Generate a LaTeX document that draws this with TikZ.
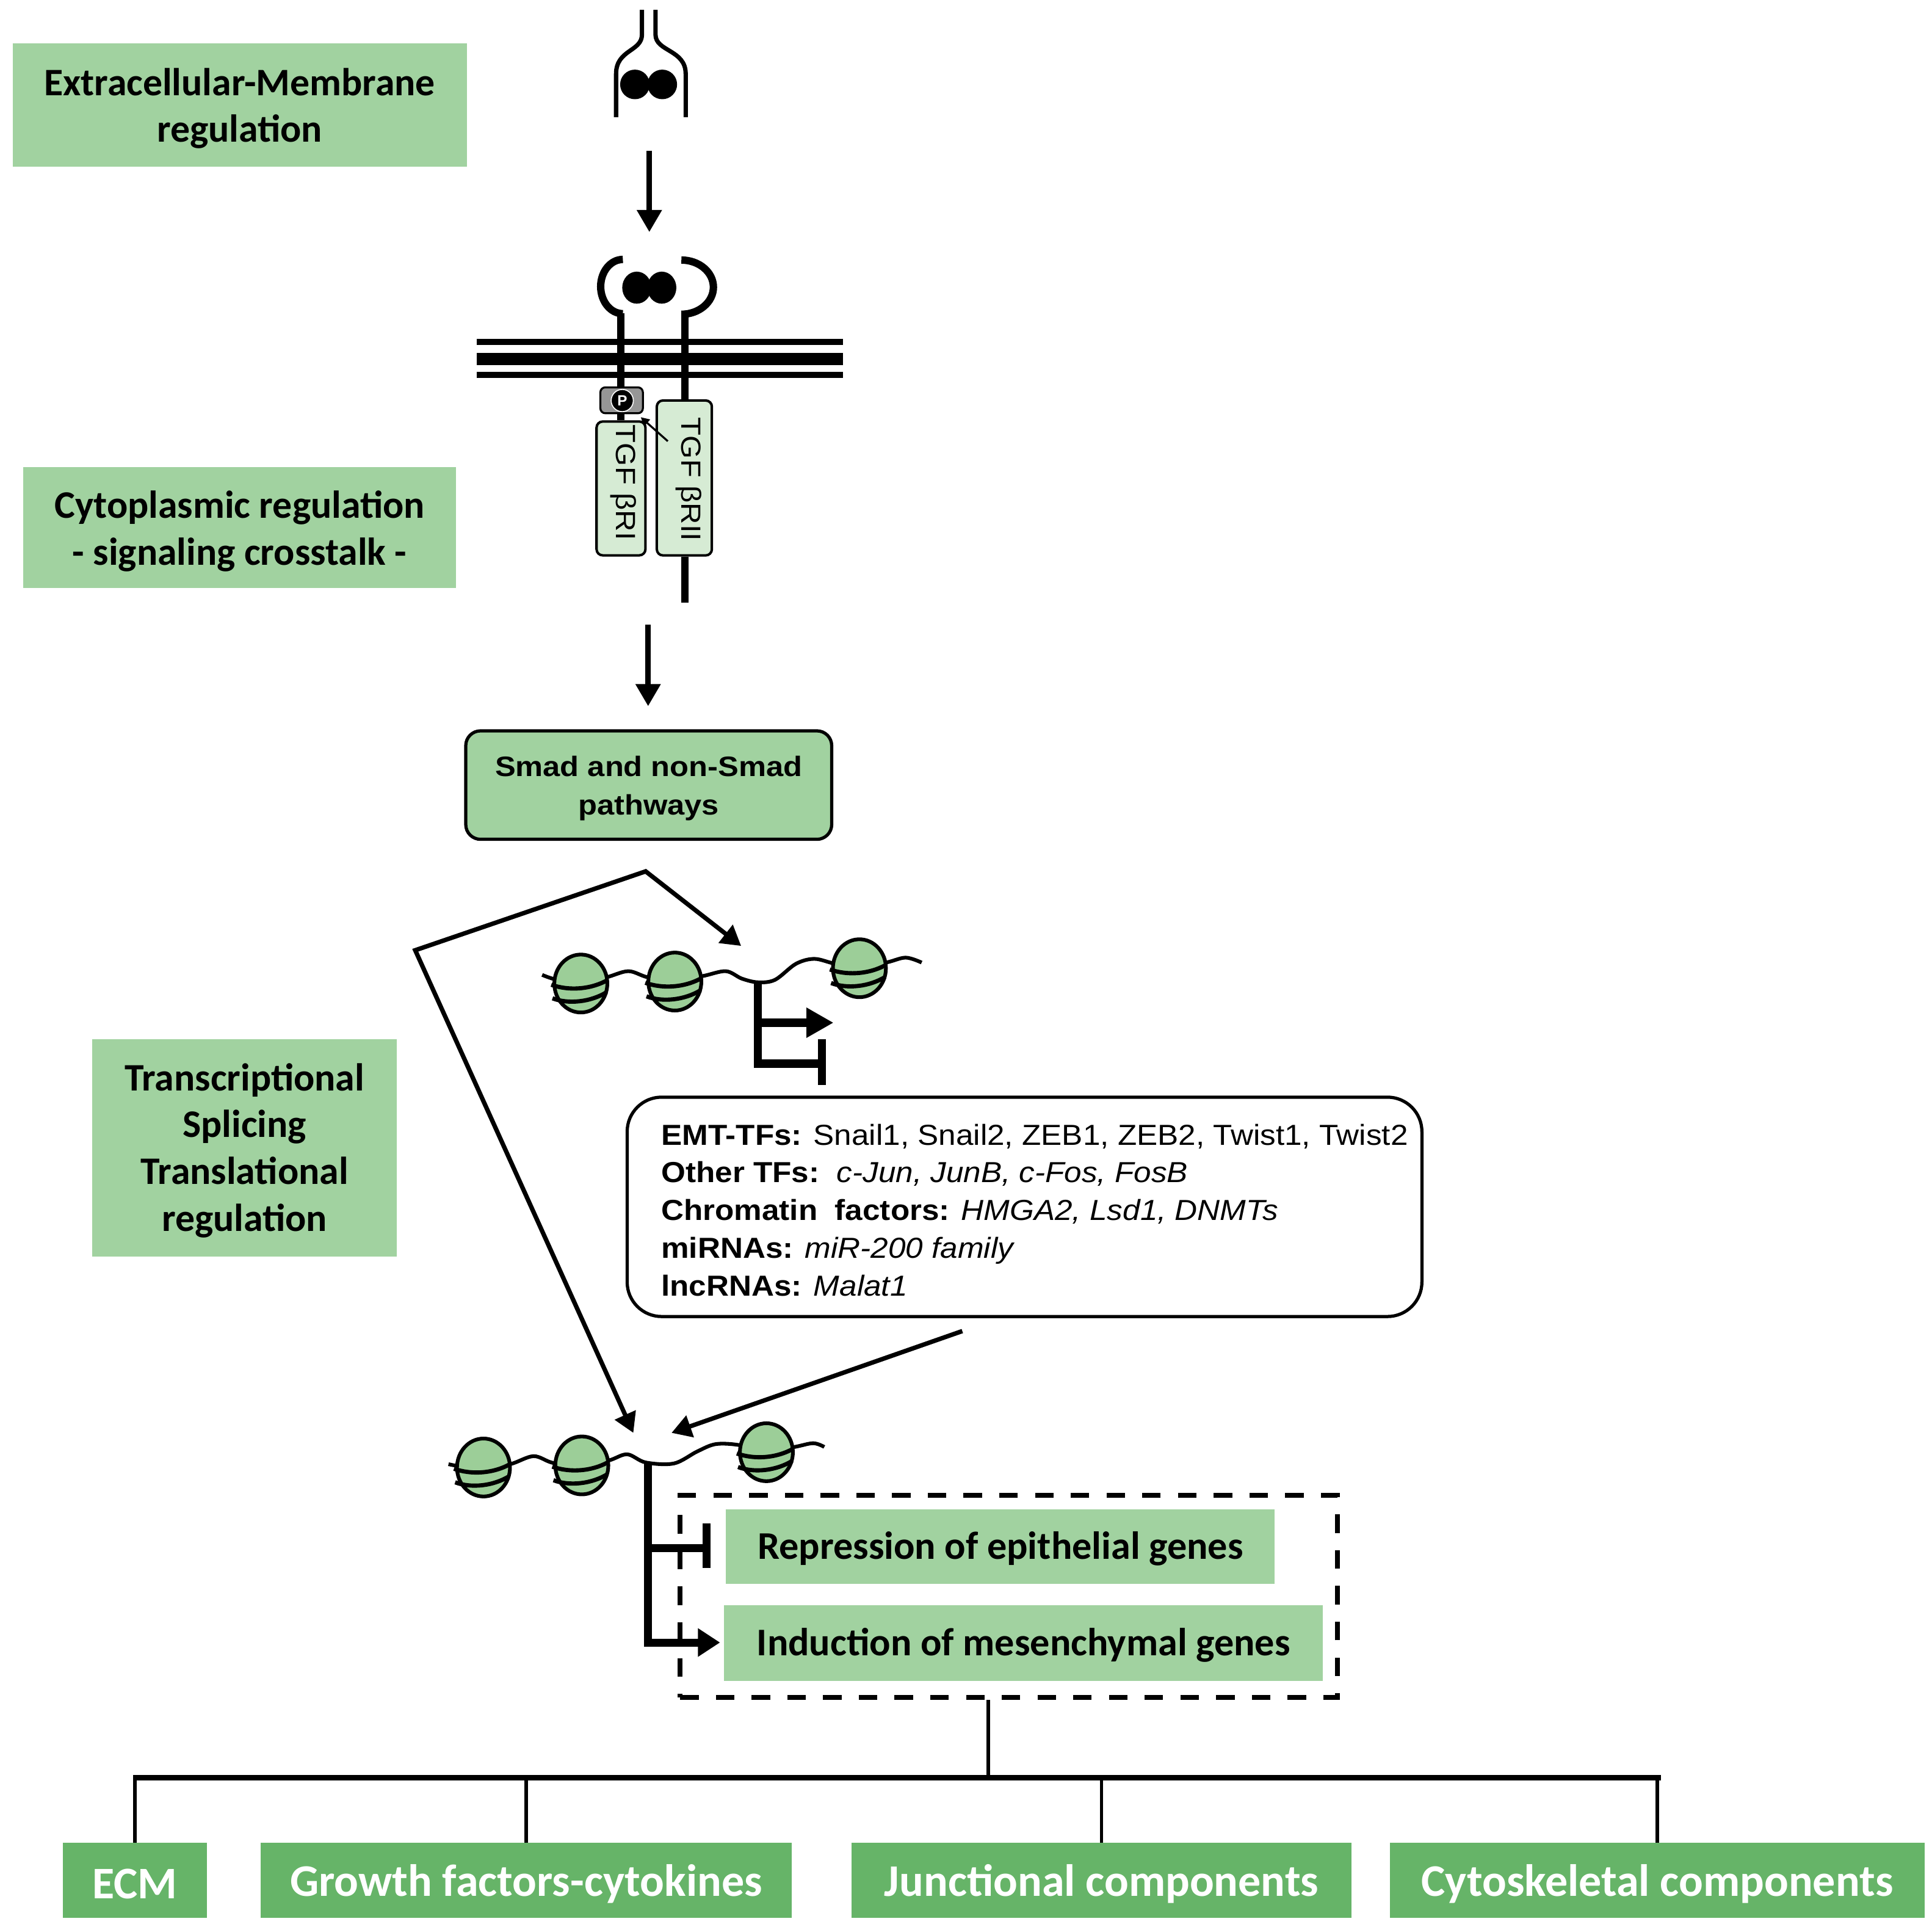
\documentclass[tikz,border=0pt]{standalone}
\usepackage{fontspec}
\setmainfont{Liberation Sans}
\newfontfamily\calb{Carlito}
\newfontfamily\arl[FakeStretch=1.08]{Liberation Sans}
\newfontfamily\arlw[FakeStretch=1.1]{Liberation Sans}
\usetikzlibrary{arrows.meta}
\definecolor{lgreen}{RGB}{161,210,160}
\definecolor{pgreen}{RGB}{214,235,212}
\definecolor{dgreen}{RGB}{102,180,104}
\definecolor{ngreen}{RGB}{156,206,152}
\definecolor{pgray}{RGB}{150,150,150}
\begin{document}
\begin{tikzpicture}[x=1pt,y=-1pt,
  lfill/.style={fill=lgreen, inner sep=0pt},
  ltext/.style={inner sep=0pt, align=center, font=\calb\bfseries\fontsize{31.6}{38}\selectfont},
  gtext/.style={inner sep=0pt, align=center, font=\calb\bfseries\fontsize{31.8}{38}\selectfont},
  ofill/.style={fill=dgreen, inner sep=0pt, minimum height=60.8pt},
  otext/.style={inner sep=0pt, text=white, font=\calb\bfseries\fontsize{36.7}{40}\selectfont},
  arr/.style={line width=4.3pt, -{Triangle[length=18pt,width=19.5pt]}},
  darr/.style={line width=3.6pt, -{Triangle[length=16pt,width=18pt]}},
  prom/.style={line width=6.5pt},
  dna/.style={line width=3pt},
  rec/.style={line width=6pt},
  listtxt/.style={anchor=base west, inner sep=0pt, font=\arl\fontsize{23.5}{30}\selectfont},
  nucleo/.pic={
    \draw[line width=3pt, fill=ngreen] (0,0) ellipse[x radius=21.5, y radius=23.5];
    \draw[line width=3.4pt] (-24,1) .. controls (-10,6) and (8,5) .. (22,-3);
    \draw[line width=3.4pt] (-23,12) .. controls (-10,17) and (8,15) .. (21,7);
  }]
\useasboundingbox (0,0) rectangle (1568,1563.5);

% ---------- left labels ----------
\node[lfill, minimum width=368.5pt, minimum height=100pt] (extra) at (194.5,85) {};
\node[ltext] (extraT) at ([yshift=-3pt]extra.center) {Extracellular-Membrane\\regulation};
\node[lfill, minimum width=351pt, minimum height=98pt] (cyto) at (194.5,428) {};
\node[ltext] (cytoT) at ([yshift=-3pt]cyto.center) {Cytoplasmic regulation\\- signaling crosstalk -};
\node[lfill, minimum width=247pt, minimum height=176.7pt] (trans) at (198.5,931.4) {};
\node[ltext] (transT) at ([yshift=-2pt]trans.center) {Transcriptional\\Splicing\\Translational\\regulation};

% ---------- free ligand ----------
\draw[line width=3.5pt] (521,8) -- (521,28) .. controls (521,42) and (500,40) .. (500,60) -- (500,95);
\draw[line width=3.5pt] (532,8) -- (532,28) .. controls (532,42) and (556.5,40) .. (556.5,60) -- (556.5,95);
\fill (515.3,68.5) circle[radius=12];
\fill (537.5,68.5) circle[radius=12];

\coordinate (a1s) at (527,122.2);
\coordinate (a1e) at (527,188.3);
\draw[arr] (a1s) -- (a1e);

% ---------- receptor ----------
\draw[line width=4.8pt] (387,277.6) -- (684,277.6);
\draw[line width=10pt] (387,291.2) -- (684,291.2);
\draw[line width=4.8pt] (387,304.3) -- (684,304.3);

\draw[rec] (505.5,210.5) arc[start angle=270, end angle=90, x radius=18, y radius=22];
\draw[rec] (553,211) arc[start angle=270, end angle=450, x radius=26, y radius=22];
\fill (516.8,233.4) ellipse[x radius=11.8, y radius=13];
\fill (537.1,233.4) ellipse[x radius=11.8, y radius=13];

\node[draw, line width=2pt, rounded corners=5pt, fill=pgreen, inner sep=0pt,
      minimum width=39.7pt, minimum height=108.6pt] (r1) at (504,396.3) {};
\node[draw, line width=2pt, rounded corners=5pt, fill=pgreen, inner sep=0pt,
      minimum width=44.7pt, minimum height=125.7pt] (r2) at (555.4,387.8) {};
\node[draw, line width=1.6pt, rounded corners=4pt, fill=pgray, inner sep=0pt,
      minimum width=34.5pt, minimum height=21pt] (pbox) at (504.5,324.8) {};
\node[circle, fill=black, draw=white, line width=0.8pt, inner sep=0pt, minimum size=18pt,
      text=white, font=\bfseries\fontsize{12}{12}\selectfont] (pc) at (505,325) {P};

\draw[rec] (504,254) -- (pbox.north -| 504,0);
\draw[rec] (pbox.south -| 504,0) -- (r1.north -| 504,0);
\draw[rec] (556,254) -- (r2.north -| 556,0);
\draw[rec] (r2.south -| 556,0) -- (556,489);

\node[rotate=-90, inner sep=0pt, font=\arl\fontsize{22.5}{22}\selectfont] (t1) at (506,391.6) {TGF βRI};
\node[rotate=-90, inner sep=0pt, font=\arl\fontsize{22.5}{22}\selectfont] (t2) at (559,389) {TGF βRII};

\coordinate (ps) at (542,358);
\coordinate (pe) at (520,338.5);
\draw[line width=1.6pt, -{Triangle[length=7pt,width=7pt]}] (ps) -- (pe);

\coordinate (a2s) at (526,507);
\coordinate (a2e) at (526,573);
\draw[arr] (a2s) -- (a2e);

% ---------- Smad box ----------
\node[draw, line width=2.6pt, rounded corners=12pt, fill=lgreen, inner sep=0pt,
      minimum width=297pt, minimum height=88pt] (smad) at (526.5,637) {};
\node[inner sep=0pt, align=center, font=\arlw\bfseries\fontsize{22.8}{31.4}\selectfont] (smadT)
      at ([yshift=-2.5pt]smad.center) {Smad and non-Smad\\pathways};

% ---------- branching arrows ----------
\coordinate (apex) at (524,707);
\coordinate (bend) at (337,771);
\coordinate (c1in) at (601.5,767.5);
\coordinate (c2inL) at (514,1162.6);
\draw[line width=3.6pt, {Triangle[length=16pt,width=18pt]}-{Triangle[length=16pt,width=18pt]}]
  (c1in) -- (apex) -- (bend) -- (c2inL);

% ---------- chromatin 1 ----------
\draw[dna] plot[smooth, tension=0.55] coordinates {(440,791) (452,795) (471,797) (492,793) (510,788) (526,793)
  (548,795) (570,792) (589,788) (602,794) (615,797) (629,795) (646,782) (661,778) (678,782)
  (697,784) (719,781) (735,777) (748,781)};
\pic at (471.4,798) {nucleo};
\pic at (547.7,796.4) {nucleo};
\pic at (697.5,785.6) {nucleo};
\coordinate (p1top) at (615.2,796);
\coordinate (p1arr) at (612,829.8);
\coordinate (p1tip) at (676.5,829.8);
\coordinate (p1bot) at (615.2,863);
\coordinate (p1T) at (667,863);
\draw[prom] (p1top) -- (p1bot) -- (p1T);
\draw[prom, -{Triangle[length=22pt,width=23pt]}] (p1arr) -- (p1tip);
\draw[prom] (667,843) -- (667,880.5);

% ---------- list box ----------
\node[draw, line width=2.6pt, rounded corners=28pt, fill=white, inner sep=0pt,
      minimum width=645pt, minimum height=178pt] (list) at (831.5,979.2) {};
\node[listtxt] (l1) at (536.5,929) {\textbf{EMT-TFs:} Snail1, Snail2, ZEB1, ZEB2, Twist1, Twist2};
\node[listtxt] (l2) at (536.5,959.6) {\textbf{Other TFs:}\ \ \textit{c-Jun, JunB, c-Fos, FosB}};
\node[listtxt] (l3) at (536.5,990.2) {\textbf{Chromatin\ \ factors:} \textit{HMGA2, Lsd1, DNMTs}};
\node[listtxt] (l4) at (536.5,1020.8) {\textbf{miRNAs:} \textit{miR-200 family}};
\node[listtxt] (l5) at (536.5,1051.4) {\textbf{lncRNAs:} \textit{Malat1}};

\coordinate (la) at (781,1080);
\coordinate (c2inR) at (545,1162.6);
\draw[darr] (la) -- (c2inR);

% ---------- chromatin 2 ----------
\draw[dna] plot[smooth, tension=0.55] coordinates {(364,1188) (375,1190) (392,1191) (414,1188) (433,1181.5) (449,1187)
  (472,1189) (494,1185) (509,1180) (524,1186.6) (547,1187.4) (566,1177.6) (581,1171.7) (600,1172.5)
  (622,1178) (645,1174) (660,1171) (669,1174)};
\pic at (392.4,1190.7) {nucleo};
\pic at (472.2,1189) {nucleo};
\pic at (622,1178.3) {nucleo};

% ---------- dashed box and genes ----------
\node[draw, line width=4pt, dash pattern=on 15pt off 14pt, inner sep=0pt,
      minimum width=533.5pt, minimum height=164pt] (dbox) at (818.75,1295.3) {};
\node[lfill, minimum width=445.4pt, minimum height=60.4pt] (rep) at (811.9,1255.1) {};
\node[gtext] (repT) at ([yshift=-1.5pt]rep.center) {Repression of epithelial genes};
\node[lfill, minimum width=485.8pt, minimum height=61.2pt] (ind) at (830.7,1333.2) {};
\node[gtext] (indT) at ([yshift=-1.5pt]ind.center) {Induction of mesenchymal genes};

\coordinate (p2top) at (525.8,1186.6);
\coordinate (p2bot) at (525.8,1332.7);
\coordinate (p2inh) at (525.8,1255.9);
\coordinate (p2T) at (573.4,1255.9);
\coordinate (p2tip) at (584.4,1332.7);
\draw[prom] (p2top) -- (p2bot) -- (560,1332.7);
\draw[prom, -{Triangle[length=18pt,width=22pt]}] (522.6,1332.7) -- (p2tip);
\draw[prom] (p2inh) -- (p2T);
\draw[prom] (573.4,1236.1) -- (573.4,1272.4);

% ---------- bottom tree ----------
\node[ofill, minimum width=116.6pt] (ecm) at (109.5,1525.7) {};
\node[otext] (ecmT) at ([yshift=-3pt]ecm.center) {ECM};
\node[ofill, minimum width=431pt] (gf) at (427,1525.7) {};
\node[otext] (gfT) at ([yshift=-3pt]gf.center) {Growth factors-cytokines};
\node[ofill, minimum width=406pt] (junc) at (894,1525.7) {};
\node[otext] (juncT) at ([yshift=-3pt]junc.center) {Junctional components};
\node[ofill, minimum width=434pt] (cytosk) at (1345,1525.7) {};
\node[otext] (cytoskT) at ([yshift=-3pt]cytosk.center) {Cytoskeletal components};

\coordinate (hub) at (802,1442.5);
\draw[line width=2.8pt] (dbox.south -| hub) -- (hub);
\draw[line width=4.2pt] (108,1442.5) -- (1348,1442.5);
\draw[line width=2.8pt] (ecm.north) -- (ecm.north |- hub);
\draw[line width=2.8pt] (gf.north) -- (gf.north |- hub);
\draw[line width=2.8pt] (junc.north) -- (junc.north |- hub);
\draw[line width=2.8pt] (cytosk.north) -- (cytosk.north |- hub);
\end{tikzpicture}
\end{document}
